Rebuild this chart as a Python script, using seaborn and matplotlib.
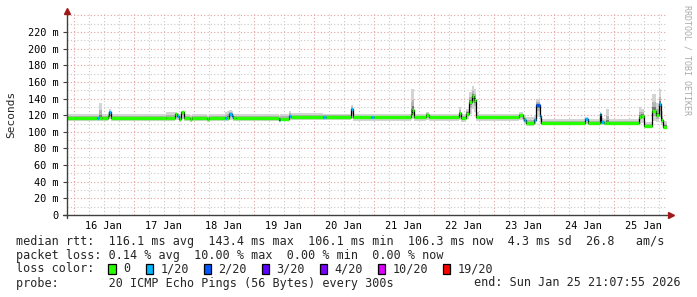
import numpy as np
import pandas as pd
import matplotlib
matplotlib.use("Agg")
import matplotlib.pyplot as plt
import seaborn as sns
from matplotlib.patches import Rectangle

# ---------------- data ----------------
end_time = pd.Timestamp("2026-01-25 21:07:55")
start_time = end_time - pd.Timedelta(days=10)

# step change points, hours after start_time
seg_hours = [0, 12, 13, 14.4, 16.6, 17.0, 17.8, 40, 43.6, 44.2, 45.2, 46, 47, 49.6, 50.4,
             56.4, 57.2, 63.6, 64.4, 65, 66.2, 66.6, 68, 84.8, 85.6, 88.8, 89.6, 102.4, 104,
             113.6, 114.6, 122, 122.9, 137.6, 138.2, 139, 143.6, 145.2, 156.8, 157.8, 160,
             160.9, 162, 162.9, 163.9, 165, 180.8, 182.6, 183.2, 184, 187.2, 188, 189.3, 190,
             207.6, 208.7, 213.3, 214, 214.9, 215.6, 217.2, 228.8, 229.8, 231, 234.2, 236,
             236.9, 237.9, 238.7]
median_ms = [116.8, 116.8, 116.8, 116.8, 119, 124, 116.8, 116.8, 121, 119, 115, 123.5, 116.8, 115.5, 116.8,
             115.5, 116.8, 116.8, 116.8, 121.5, 119.5, 116.8, 116.8, 114, 116, 119.5, 117.5, 117.5, 117.5,
             127, 117.3, 117.3, 117.3, 121, 126, 117.3, 120.5, 117.3, 122.5, 116.5, 122,
             136, 143.4, 138, 117.3, 117.3, 120, 117, 114, 110.8, 114, 132, 119, 111,
             115, 111, 121, 112, 111, 111, 111, 118, 119.5, 106.5, 125, 120,
             133, 114, 106.3]
loss_count = [0, 1, 0, 0, 0, 1, 0, 0, 0, 1, 0, 0, 0, 0, 0,
              0, 0, 1, 0, 1, 1, 0, 0, 1, 0, 1, 0, 1, 0,
              1, 0, 1, 0, 0, 0, 0, 0, 0, 0, 0, 0,
              0, 0, 0, 0, 0, 0, 0, 1, 0, 1, 2, 1, 0,
              1, 0, 1, 1, 0, 0, 0, 0, 0, 0, 0, 0,
              1, 0, 0]
smoke_lo_ms = [113, 113, 113, 113, 114, 115, 113, 113, 114, 114, 112, 116, 113, 112, 113,
               112, 113, 113, 113, 114, 114, 113, 113, 112, 113, 114, 114, 114, 114,
               116, 113, 113, 113, 114, 116, 113, 114, 113, 114, 112, 115,
               122, 128, 124, 113, 113, 114, 112, 109, 107, 108, 118, 110, 108,
               110, 108, 111, 108, 108, 108, 108, 110, 111, 105, 113, 112,
               118, 108, 104]
smoke_hi_ms = [121, 121, 135, 121, 124, 127, 121, 124, 124, 123, 121, 125, 121, 120, 121,
               120, 121, 124, 125, 126, 125, 122, 121, 120, 121, 125, 123, 122, 122,
               132, 122, 122, 122, 151, 151, 122, 124, 122, 130, 122, 128,
               148, 155, 152, 124, 122, 124, 122, 120, 118, 120, 140, 125, 116,
               118, 116, 124, 117, 116, 128, 116, 130, 128, 112, 146, 135,
               152, 125, 113]

loss_labels = ["0", "1/20", "2/20", "3/20", "4/20", "10/20", "19/20"]
loss_levels = [0, 1, 2, 3, 4, 10, 19]
loss_colors = ["#26ff00", "#00b8ff", "#0059ff", "#5e00ff", "#7e00ff", "#dd00ff", "#ff0000"]

day_labels = ["16 Jan", "17 Jan", "18 Jan", "19 Jan", "20 Jan",
              "21 Jan", "22 Jan", "23 Jan", "24 Jan", "25 Jan"]
y_ticks = [0, 20, 40, 60, 80, 100, 120, 140, 160, 180, 200, 220]

legend_lines = [
    "median rtt:  116.1 ms avg  143.4 ms max  106.1 ms min  106.3 ms now  4.3 ms sd  26.8   am/s",
    "packet loss: 0.14 % avg  10.00 % max  0.00 % min  0.00 % now",
]
probe_text = "probe:       20 ICMP Echo Pings (56 Bytes) every 300s"
end_text = "end: Sun Jan 25 21:07:55 2026"

# ---------------- figure ----------------
sns.set_style("white")
plt.rcParams["font.family"] = ["DejaVu Sans Mono", "DejaVu Sans"]

W, H = 697, 297
fig = plt.figure(figsize=(W / 100, H / 100), dpi=100)
fig.patch.set_facecolor("white")
ax_l, ax_r, ax_t, ax_b = 66.5, 666.5, 13, 215
ax = fig.add_axes([ax_l / W, 1 - ax_b / H, (ax_r - ax_l) / W, (ax_b - ax_t) / H])
ax.set_facecolor("white")

t = start_time + pd.to_timedelta(seg_hours, unit="h")
t_ext = list(t) + [end_time]
med = np.array(median_ms)
lo = np.array(smoke_lo_ms)
hi = np.array(smoke_hi_ms)
med_e = np.append(med, med[-1])
lo_e = np.append(lo, lo[-1])
hi_e = np.append(hi, hi[-1])

ax.set_xlim(start_time, end_time)
ax.set_ylim(0, 243)

# grid
for d in pd.date_range(start_time.floor("6h"), end_time, freq="6h"):
    if d < start_time:
        continue
    col = "#e4a0a0" if d.hour == 0 else "#c8c8c8"
    ax.axvline(d, color=col, lw=0.8, ls=(0, (1, 2)), zorder=0)
for v in range(10, 243, 10):
    col = "#e4a0a0" if v % 20 == 0 else "#c8c8c8"
    ax.axhline(v, color=col, lw=0.8, ls=(0, (1, 2)), zorder=0)

# smoke
ax.fill_between(t_ext, lo_e, hi_e, step="post", color="#d4d4d4", lw=0, zorder=1)
ax.fill_between(t_ext, med_e + 0.5 * (lo_e - med_e), med_e + 0.5 * (hi_e - med_e),
                step="post", color="#b4b4b4", lw=0, zorder=1)
ax.fill_between(t_ext, med_e + 0.22 * (lo_e - med_e), med_e + 0.22 * (hi_e - med_e),
                step="post", color="#787878", lw=0, zorder=1)

# median connector line
df = pd.DataFrame({"time": t_ext, "median": med_e})
sns.lineplot(data=df, x="time", y="median", drawstyle="steps-post", color="black",
             lw=0.9, estimator=None, ax=ax, legend=False, zorder=2)

# median coloured by loss
cmap = dict(zip(loss_levels, loss_colors))
for i in range(len(med)):
    ax.hlines(med[i], t_ext[i], t_ext[i + 1], color=cmap[loss_count[i]], lw=2.4, zorder=3)

# axes styling
for s in ax.spines.values():
    s.set_visible(False)
ax.set_xlabel("")
ax.set_ylabel("")
ax.set_yticks(y_ticks)
ax.set_yticklabels([("%d m" % v) if v else "0" for v in y_ticks])
noon = [pd.Timestamp("2026-01-%02d 12:00" % (16 + i)) for i in range(len(day_labels))]
ax.set_xticks(noon)
ax.set_xticklabels(day_labels)
ax.tick_params(axis="y", length=3, width=0.8, color="#404040", pad=2.5, labelsize=7.4,
               labelcolor="#000000", left=True, direction="out")
ax.tick_params(axis="x", length=0, pad=4.5, labelsize=7.4, labelcolor="#000000")

# axis lines with arrows
ax.plot([0, 0], [-0.015, 1.0], transform=ax.transAxes, color="#404040", lw=1, clip_on=False, zorder=5)
ax.plot([-0.006, 1.0], [0, 0], transform=ax.transAxes, color="#404040", lw=1, clip_on=False, zorder=5)
ax.plot([0], [1.01], marker="^", ms=4, color="#a01818", transform=ax.transAxes, clip_on=False, zorder=6)
ax.plot([1.007], [0], marker=">", ms=4, color="#a01818", transform=ax.transAxes, clip_on=False, zorder=6)

# y label and watermark
fig.text(11 / W, 1 - 114 / H, "Seconds", rotation=90, ha="center", va="center", fontsize=8)
fig.text(687 / W, 1 - 60 / H, "RRDTOOL / TOBI OETIKER", rotation=270, ha="center", va="center",
         fontsize=6, color="#aaaaaa")

# legend texts
fs = 8.5
fig.text(16 / W, 1 - 241 / H, legend_lines[0], ha="left", va="center", fontsize=fs)
fig.text(16 / W, 1 - 255 / H, legend_lines[1], ha="left", va="center", fontsize=fs)
fig.text(16 / W, 1 - 269 / H, "loss color:", ha="left", va="center", fontsize=fs)
box_x = [108.3, 145.7, 203.7, 261.7, 319.7, 377.7, 442.7]
for bx, lab, col in zip(box_x, loss_labels, loss_colors):
    fig.patches.append(Rectangle((bx / W, 1 - 274.3 / H), 7.5 / W, 10 / H, transform=fig.transFigure,
                                 facecolor=col, edgecolor="black", lw=0.9))
    fig.text((bx + 14.5) / W, 1 - 269 / H, lab, ha="left", va="center", fontsize=fs)
fig.text(16 / W, 1 - 283 / H, probe_text, ha="left", va="center", fontsize=fs)
fig.text(681 / W, 1 - 283 / H, end_text, ha="right", va="center", fontsize=fs)

fig.savefig("out.png", dpi=100, facecolor="white")
